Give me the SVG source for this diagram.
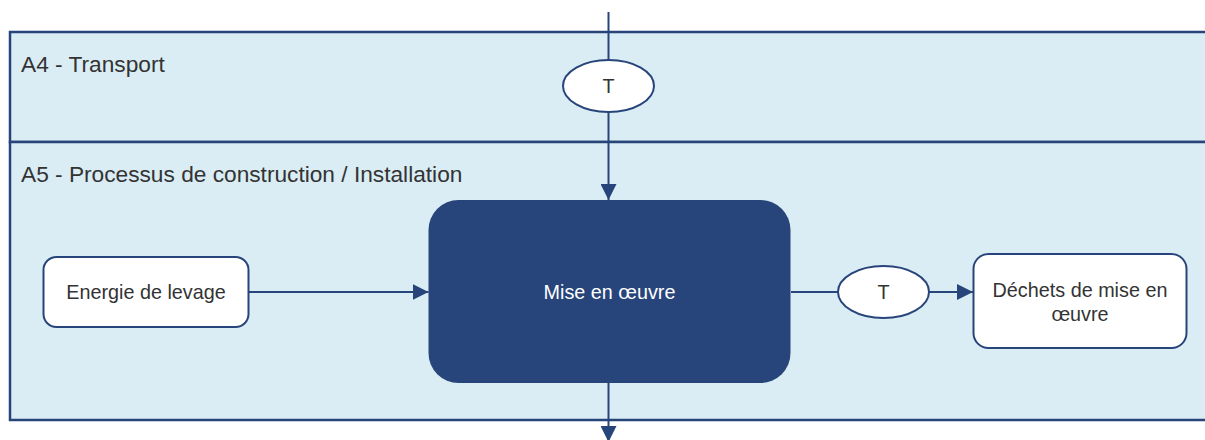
<svg xmlns="http://www.w3.org/2000/svg" width="1205" height="440" viewBox="0 0 1205 440">
<style>
.band{fill:#daedf4;stroke:#27457a;stroke-width:2.5}
.lbl{font-family:"Liberation Sans",Arial,sans-serif;font-size:22.7px;fill:#333}
.txt{font-family:"Liberation Sans",Arial,sans-serif;font-size:19.8px;fill:#333;text-anchor:middle}
.box{fill:#fff;stroke:#27457a;stroke-width:2}
.conn{stroke:#27457a;stroke-width:2;fill:none}
</style>
<defs>
<marker id="arr" viewBox="0 0 16 16" refX="16" refY="8" markerWidth="16" markerHeight="16" markerUnits="userSpaceOnUse" orient="auto">
<path d="M0,0 L16,8 L0,16 Z" fill="#27457a"/>
</marker>
</defs>
<rect width="1205" height="440" fill="#fff"/>
<g id="band-a4">
<rect class="band" x="10" y="32" width="1200" height="110"/>
<text class="lbl" x="21" y="72">A4 - Transport</text>
</g>
<g id="band-a5">
<rect class="band" x="10" y="142" width="1200" height="278"/>
<text class="lbl" x="21" y="182">A5 - Processus de construction / Installation</text>
</g>
<g id="connectors">
<line class="conn" x1="608.5" y1="12" x2="608.5" y2="60"/>
<line class="conn" x1="608.5" y1="112" x2="608.5" y2="200" marker-end="url(#arr)"/>
<line class="conn" x1="248" y1="292" x2="428.5" y2="292" marker-end="url(#arr)"/>
<line class="conn" x1="791" y1="292" x2="838" y2="292"/>
<line class="conn" x1="929" y1="292" x2="973" y2="292" marker-end="url(#arr)"/>
<line class="conn" x1="608.5" y1="383" x2="608.5" y2="442" marker-end="url(#arr)"/>
</g>
<g id="node-t1">
<ellipse class="box" cx="608.5" cy="86" rx="45.5" ry="26"/>
<text class="txt" x="608.5" y="93">T</text>
</g>
<g id="node-energie">
<rect class="box" x="43.5" y="257" width="205" height="70" rx="13"/>
<text class="txt" x="146" y="299">Energie de levage</text>
</g>
<g id="node-mise">
<rect x="428.5" y="200" width="362" height="183" rx="30" fill="#27457a"/>
<text class="txt" x="609.5" y="299" style="fill:#fff">Mise en œuvre</text>
</g>
<g id="node-t2">
<ellipse class="box" cx="883.5" cy="292" rx="45.5" ry="26"/>
<text class="txt" x="883.5" y="299">T</text>
</g>
<g id="node-dechets">
<rect class="box" x="973.5" y="254" width="213" height="94" rx="15"/>
<text class="txt" x="1080" y="297">Déchets de mise en</text>
<text class="txt" x="1080" y="321">œuvre</text>
</g>
</svg>
